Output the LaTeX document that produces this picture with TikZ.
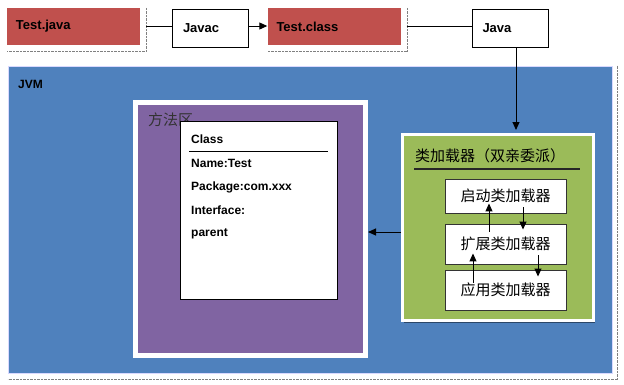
\documentclass[tikz,border=0pt]{standalone}
\usepackage{fontspec}
\setmainfont{Liberation Sans}
\newfontfamily\cjk{Noto Sans CJK SC}
\usepackage{tikz}
\usetikzlibrary{positioning, arrows.meta, calc, shadows}
\definecolor{srcRed}{RGB}{192, 80, 77}
\definecolor{jvmBlue}{RGB}{79, 129, 189}
\definecolor{areaPurple}{RGB}{128, 100, 162}
\definecolor{loaderGreen}{RGB}{155, 187, 89}

\begin{document}
\begin{tikzpicture}[x=1pt, y=-1pt,
        lat/.style={font=\bfseries\fontsize{13}{15}\selectfont},
        zh/.style={font=\cjk\fontsize{15}{18}\selectfont},
        file/.style={rectangle, fill=srcRed, lat, align=left, inner sep=0pt,
            text width=115pt, minimum width=133pt, minimum height=37pt},
        tool/.style={rectangle, draw=black, line width=0.9pt, fill=white, lat, align=left,
            inner sep=0pt, text width=55pt, minimum width=76pt, minimum height=38pt},
        frame/.style={rectangle, draw=white, inner sep=0pt,
            drop shadow={shadow xshift=1pt, shadow yshift=-2pt, opacity=0.45, fill=black}},
        cls/.style={anchor=west, font=\bfseries\fontsize{12}{14}\selectfont, inner sep=0pt},
        ldr/.style={rectangle, draw=black!80, line width=0.9pt, fill=white, zh,
            minimum width=121pt},
        link/.style={line width=0.9pt},
        arr/.style={-{Triangle[length=8pt, width=7pt]}, line width=1pt}
    ]
    \useasboundingbox (0,0) rectangle (624,384);

    % top row: source -> compiler -> bytecode -> launcher
    \node[file] (src)   at (73.5,26.5) {Test.java};
    \node[tool] (javac) at (210.5,28)  {Javac};
    \node[file] (cls)   at (334,26.5)  {Test.class};
    \node[tool] (java)  at (510,28)    {Java};
    \draw[gray, densely dotted] ([xshift=6pt]src.north east) |- ([yshift=-6pt]src.south west);
    \draw[gray, densely dotted] ([xshift=6pt]cls.north east) |- ([yshift=-6pt]cls.south west);
    \draw[link] ([xshift=6pt]src.east |- 0,26) -- (javac.west |- 0,26);
    \draw[arr] (javac.east |- 0,26) -- (cls.west |- 0,26);
    \draw[link] ([xshift=6pt]cls.east |- 0,26) -- (java.west |- 0,26);

    % JVM
    \node[rectangle, fill=jvmBlue, draw=blue!15, line width=1pt,
        minimum width=604pt, minimum height=307pt] (jvm) at (310,219.5) {};
    \draw[gray, densely dotted] ([xshift=5pt]jvm.north east) |- ([yshift=-6pt]jvm.south west);
    \node[anchor=west, lat, font=\bfseries\fontsize{12}{14}\selectfont, inner sep=0pt] (jvmlbl) at (18,84) {JVM};

    % method area
    \node[frame, fill=areaPurple, line width=5pt,
        minimum width=230pt, minimum height=253pt] (area) at (250.5,229) {};
    \node[zh, anchor=west, inner sep=0pt, text=black!80] (arealbl) at (148,120) {方法区};
    \node[rectangle, draw=black, line width=0.9pt, fill=white,
        minimum width=157pt, minimum height=178pt] (classbox) at (258.5,210) {};
    \node[cls] (ctitle)  at (191,139) {Class};
    \draw[line width=1pt] (189,151) -- (328,151);
    \node[cls] (cname)   at (191,163) {Name:Test};
    \node[cls] (cpkg)    at (191,187) {Package:com.xxx};
    \node[cls] (ciface)  at (191,210) {Interface:};
    \node[cls] (cparent) at (191,234) {parent};

    % class loaders
    \node[frame, fill=loaderGreen, line width=3pt,
        minimum width=191pt, minimum height=186pt] (loader) at (498,227.5) {};
    \node[zh, anchor=west, inner sep=0pt] (ldrlbl) at (415,156) {类加载器（双亲委派）};
    \draw[line width=1.2pt, black!85] (414,169) -- (580,169);
    \node[ldr, minimum height=34pt] (boot) at (505.5,196) {启动类加载器};
    \node[ldr, minimum height=40pt] (ext)  at (505.5,244) {扩展类加载器};
    \node[ldr, minimum height=40pt] (app)  at (505.5,290) {应用类加载器};
    \draw[arr] ([xshift=-16.5pt, yshift=-8pt]ext.north) -- ([xshift=-16.5pt, yshift=10pt]boot.south);
    \draw[arr] ([xshift=17.5pt, yshift=6pt]boot.south) -- ([xshift=17.5pt, yshift=-6pt]ext.north);
    \draw[arr] ([xshift=-32.5pt, yshift=-13pt]app.north) -- ([xshift=-32.5pt, yshift=11pt]ext.south);
    \draw[arr] ([xshift=32.5pt, yshift=9pt]ext.south) -- ([xshift=32.5pt, yshift=-7pt]app.north);

    \draw[arr, shorten >=3pt] ([xshift=6pt]java.south) -- ([xshift=6pt]java.south |- loader.north);
    \draw[arr] ([yshift=-4.5pt]loader.west) -- ([yshift=-4.5pt]loader.west -| area.east);
\end{tikzpicture}
\end{document}
